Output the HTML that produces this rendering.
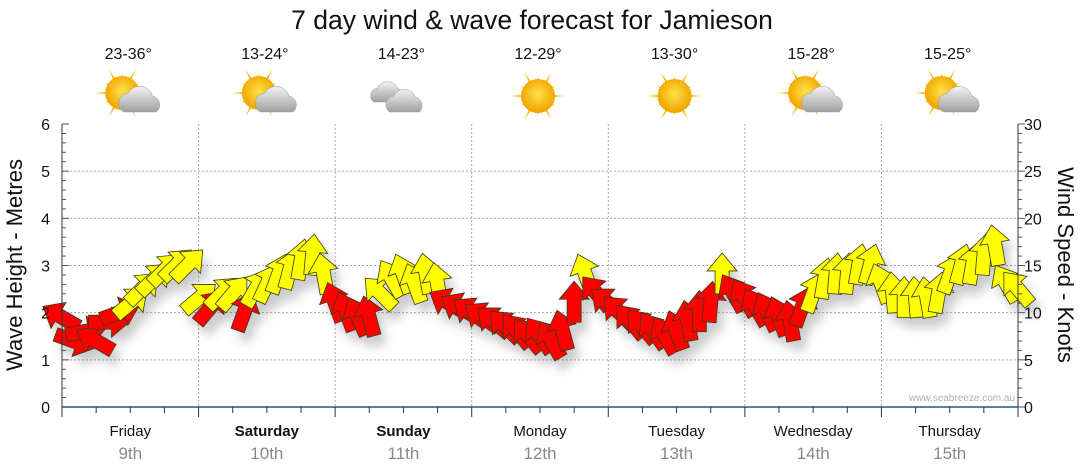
<!DOCTYPE html>
<html><head><meta charset="utf-8"><style>
body{margin:0;background:#fff;}
svg{display:block;font-family:"Liberation Sans",sans-serif;}
</style></head><body>
<svg id="c" width="1080" height="475" viewBox="0 0 1080 475">
<defs>
<filter id="sh" x="-50%" y="-50%" width="200%" height="200%"><feGaussianBlur stdDeviation="5"/></filter>
<radialGradient id="sun" cx="50%" cy="45%" r="50%"><stop offset="0" stop-color="#ffe24a"/><stop offset="1" stop-color="#f2a600"/></radialGradient>
<linearGradient id="cl" x1="0" y1="0" x2="0" y2="1"><stop offset="0" stop-color="#f2f2f2"/><stop offset="1" stop-color="#a0a0a0"/></linearGradient>
</defs>
<text x="532" y="29" font-size="26.5" text-anchor="middle" fill="#111">7 day wind &amp; wave forecast for Jamieson</text>
<g id="grid"></g><g id="icons"></g><g id="shadows" filter="url(#sh)" opacity="0.3"></g><g id="arrows"></g><g id="axes"></g>
<text x="1015" y="401" font-size="10" text-anchor="end" fill="#a8b0c0">www.seabreeze.com.au</text>
<text transform="translate(22,265) rotate(-90)" font-size="22" text-anchor="middle" fill="#111">Wave Height - Metres</text>
<text transform="translate(1058,265) rotate(90)" font-size="22" text-anchor="middle" fill="#111">Wind Speed - Knots</text>
</svg>
<script>
const days=["Friday","Saturday","Sunday","Monday","Tuesday","Wednesday","Thursday"];
const dates=["9th","10th","11th","12th","13th","14th","15th"];
const boldDays=[false,true,true,false,false,false,false];
const temps=["23-36°","13-24°","14-23°","12-29°","13-30°","15-28°","15-25°"];
const icons=["partly","partly","cloudy","sunny","sunny","partly","partly"];
const waveTicks=[0,1,2,3,4,5,6];
const knotTicks=[0,5,10,15,20,25,30];
const windSpeed=[9.5,7,8,7,9,10,11,12.5,13.5,14.5,15,15,
 11.5,10.5,12,12,10,12.5,13,14,14.5,15.5,16,14,
 11,10,9.5,9.5,12,13.5,14,13,14,13,11,10.5,
 10,9.5,9,8.5,8,7.5,7.5,7,8,11,14,12,
 11,10,9,8.5,8,7.5,8,9,10,11,14,12,
 11.5,10.5,10,9.5,9,10.5,12,13.5,14,14,15,15,
 13,12,11.5,11.5,11.5,12,14,15,15,16,17,13,12.5];
const windDir=[300,110,80,300,90,70,50,45,45,45,45,45,
 50,40,45,40,20,30,25,20,15,10,5,350,
 340,340,335,345,315,330,340,340,350,350,300,300,
 305,305,310,315,320,320,325,330,345,0,340,320,
 310,315,320,320,325,330,340,350,0,5,0,330,
 330,330,335,340,350,20,20,10,5,5,10,15,
 340,355,0,355,350,10,20,15,10,5,350,330,320];
const windCol=["r","r","r","r","r","r","y","y","y","y","y","y",
 "y","r","y","y","r","y","y","y","y","y","y","y",
 "r","r","r","r","y","y","y","y","y","y","r","r",
 "r","r","r","r","r","r","r","r","r","r","y","r",
 "r","r","r","r","r","r","r","r","r","r","y","r",
 "r","r","r","r","r","r","y","y","y","y","y","y",
 "y","y","y","y","y","y","y","y","y","y","y","y","y"];
const NS="http://www.w3.org/2000/svg";
const X0=62,X1=1018,Y0=407,Y1=124,DW=(X1-X0)/7;
const xT=h=>X0+h/24*DW;
const yW=m=>Y0-m*(Y0-Y1)/6;
const yK=k=>Y0-k*(Y0-Y1)/30;
function mk(t,a,p){const e=document.createElementNS(NS,t);for(const k in a)e.setAttribute(k,a[k]);(p||document.getElementById('c')).appendChild(e);return e;}
const grid=document.getElementById('grid'),axes=document.getElementById('axes'),ic=document.getElementById('icons');
waveTicks.forEach(v=>{if(v>0&&v<6){const l=mk('line',{x1:X0,x2:X1,y1:yW(v),y2:yW(v),stroke:'#aaa','stroke-dasharray':'2,2'},grid);}
const t=mk('text',{x:50,y:yW(v)+6,'font-size':16,'text-anchor':'end',fill:'#111'},axes);t.textContent=v;});
knotTicks.forEach(v=>{const t=mk('text',{x:1024,y:yK(v)+6,'font-size':16,fill:'#111'},axes);t.textContent=v;});
for(let i=0;i<=30;i++){const y=yK(i),w=(i%5==0)?7:4;mk('line',{x1:X0,x2:X0+w,y1:y,y2:y,stroke:'#555'},axes);mk('line',{x1:X1,x2:X1+w,y1:y,y2:y,stroke:'#555'},axes);}
mk('line',{x1:X0,x2:X0,y1:Y1,y2:Y0,stroke:'#333'},axes);
mk('line',{x1:X1,x2:X1,y1:Y1,y2:Y0,stroke:'#333'},axes);
const bx=mk('line',{x1:X0,x2:X1,y1:Y0,y2:Y0,stroke:'#1a5a80','stroke-width':1.5},axes);

for(let h=0;h<=168;h+=6){const x=xT(h);mk('line',{x1:x,x2:x,y1:Y0,y2:Y0+(h%24==0?10:6),stroke:'#333'},axes);}
days.forEach((d,i)=>{const cx=X0+DW*(i+0.5);
if(i>0){const g=mk('line',{x1:X0+DW*i,x2:X0+DW*i,y1:Y1,y2:Y0,stroke:'#aaa','stroke-dasharray':'2,2'},grid);}
const t=mk('text',{x:cx,y:436,'font-size':15,'text-anchor':'middle',fill:'#111','font-weight':boldDays[i]?'bold':'normal'},axes);t.textContent=d;
const t2=mk('text',{x:cx,y:459,'font-size':17,'text-anchor':'middle',fill:'#888'},axes);t2.textContent=dates[i];
const t3=mk('text',{x:cx-2,y:59,'font-size':16,'text-anchor':'middle',fill:'#111'},ic);t3.textContent=temps[i];
const g=mk('g',{transform:`translate(${cx-2},96)`},ic);
const k=icons[i];
if(k!='cloudy'){const sx=k=='sunny'?0:-6,sy=k=='sunny'?0:-3;
for(let a=0;a<360;a+=30){const r=a*Math.PI/180,L=(a/30)%2?20:27;mk('polygon',{points:`${sx+Math.cos(r-0.12)*12},${sy+Math.sin(r-0.12)*12} ${sx+Math.cos(r)*L},${sy+Math.sin(r)*L} ${sx+Math.cos(r+0.12)*12},${sy+Math.sin(r+0.12)*12}`,fill:'#f5b800'},g);}
mk('circle',{cx:sx,cy:sy,r:17,fill:'url(#sun)'},g);}
if(k=='partly'){mk('path',{d:'M-4,16 a10,10 0 0 1 4,-19 a13,13 0 0 1 24,3 a9,9 0 0 1 4,16 z',fill:'url(#cl)',stroke:'#999','stroke-width':0.5},g);}
if(k=='cloudy'){mk('path',{d:'M-28,6 a8,8 0 0 1 4,-14 a11,11 0 0 1 20,0 a8,8 0 0 1 2,14 z',fill:'url(#cl)',stroke:'#999','stroke-width':0.5},g);mk('path',{d:'M-12,16 a9,9 0 0 1 4,-16 a12,12 0 0 1 22,1 a9,9 0 0 1 4,15 z',fill:'url(#cl)',stroke:'#999','stroke-width':0.5},g);}
});
const AR="0,-22 15,-4 7,-4 7,19 -7,19 -7,-4 -15,-4";
const ag=document.getElementById('arrows'),sg=document.getElementById('shadows');
windSpeed.forEach((s,i)=>{const x=xT(i*2),y=yK(s),d=windDir[i];
mk('polygon',{points:AR,fill:'#555',transform:`translate(${x+6},${y+10}) rotate(${d})`},sg);
const p=mk('polygon',{points:AR,fill:windCol[i]=='r'?'#ff0000':'#ffff00',stroke:'#3a3a1a','stroke-width':0.8,transform:`translate(${x},${y}) rotate(${d})`},ag);

});
</script>
</body></html>
